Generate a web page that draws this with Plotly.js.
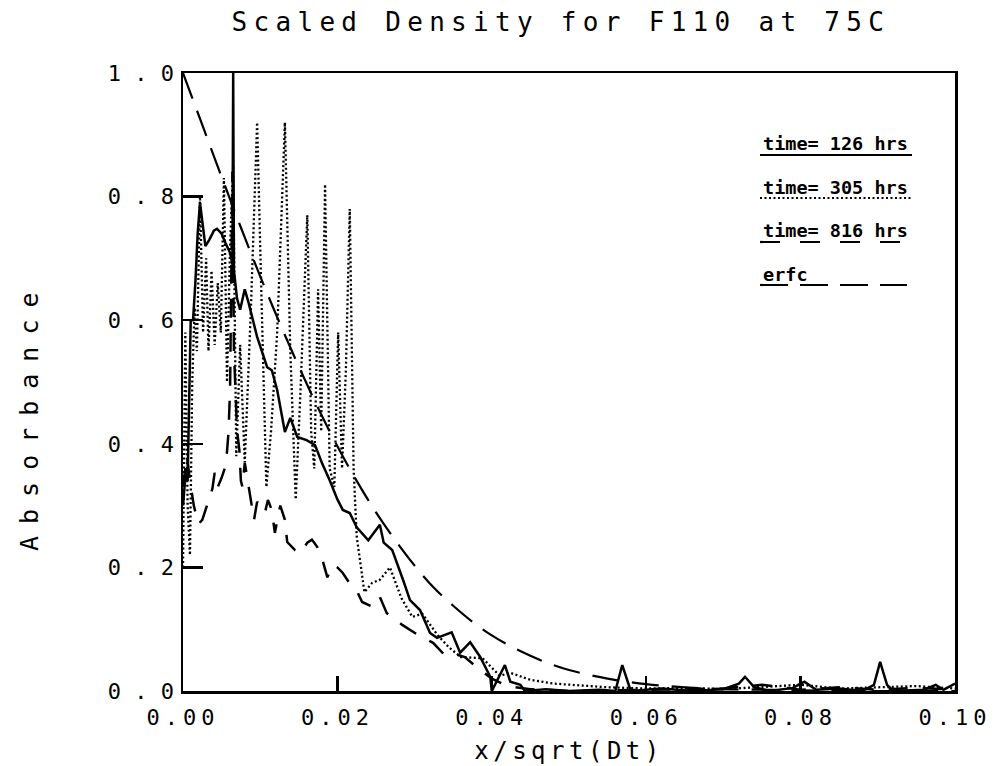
<!DOCTYPE html>
<html>
<head>
<meta charset="utf-8">
<script src="https://cdn.plot.ly/plotly-3.0.1.min.js"></script>
<style>
  html, body { margin: 0; padding: 0; background: #fff; }
  #chart { width: 998px; height: 766px; }
  .xtick text { letter-spacing: 5px; }
  .gtitle { letter-spacing: 6.3px; }
  .g-xtitle text { letter-spacing: 4.5px; }
  g.annotation[data-index="0"] text { letter-spacing: 12px; }
</style>
</head>
<body>
<div id="chart"></div>
<script>
// ---- Data ----
var seriesNames = ["time= 126 hrs", "time= 305 hrs", "time= 816 hrs", "erfc"];

var t126X = [0.0000,0.0004,0.0006,0.0008,0.0010,0.0013,0.0016,0.0019,0.0022,0.0026,0.0029,0.0034,0.0040,0.0044,0.0050,0.0055,0.0061,0.0064,0.0065,0.0066,0.0070,0.0074,0.0080,0.0085,0.0096,0.0109,0.0115,0.0122,0.0132,0.0139,0.0148,0.0160,0.0171,0.0180,0.0190,0.0200,0.0207,0.0216,0.0225,0.0240,0.0255,0.0260,0.0271,0.0285,0.0294,0.0307,0.0320,0.0329,0.0348,0.0359,0.0372,0.0385,0.0398,0.0400,0.0408,0.0417,0.0424,0.0437,0.0443,0.0470,0.0500,0.0540,0.0560,0.0569,0.0580,0.0620,0.0660,0.0700,0.0720,0.0728,0.0740,0.0760,0.0790,0.0805,0.0820,0.0850,0.0880,0.0895,0.0903,0.0912,0.0920,0.0960,0.0975,0.0985,0.1000];
var t126Y = [0.30,0.36,0.34,0.48,0.60,0.60,0.66,0.74,0.79,0.75,0.72,0.73,0.745,0.748,0.74,0.725,0.709,0.69,1.00,0.68,0.635,0.617,0.650,0.628,0.573,0.524,0.519,0.487,0.419,0.442,0.411,0.406,0.398,0.369,0.341,0.310,0.293,0.288,0.265,0.244,0.269,0.240,0.228,0.180,0.147,0.131,0.094,0.086,0.095,0.062,0.079,0.055,0.023,0.000,0.020,0.042,0.015,0.010,0.000,0.003,0.000,0.002,0.000,0.042,0.000,0.004,0.000,0.003,0.012,0.023,0.006,0.000,0.005,0.015,0.002,0.004,0.000,0.010,0.047,0.010,0.000,0.002,0.010,0.002,0.012];

var t305X = [0.0000,0.0003,0.0006,0.0009,0.0012,0.0015,0.0018,0.0022,0.0026,0.0030,0.0033,0.0037,0.0041,0.0045,0.0049,0.0053,0.0057,0.0061,0.0065,0.0069,0.0074,0.0080,0.0088,0.0096,0.0102,0.0108,0.0114,0.0122,0.0132,0.0139,0.0146,0.0152,0.0161,0.0166,0.0170,0.0175,0.0179,0.0184,0.0190,0.0196,0.0201,0.0206,0.0211,0.0216,0.0221,0.0225,0.0235,0.0245,0.0255,0.0268,0.0283,0.0297,0.0310,0.0330,0.0345,0.0360,0.0388,0.0410,0.0425,0.0450,0.0480,0.0500,0.0550,0.0600,0.0650,0.0700,0.0750,0.0800,0.0850,0.0900,0.0950,0.1000];
var t305Y = [0.20,0.58,0.30,0.22,0.50,0.62,0.55,0.80,0.58,0.70,0.55,0.68,0.56,0.66,0.58,0.83,0.50,0.72,0.85,0.38,0.56,0.37,0.62,0.92,0.62,0.33,0.42,0.58,0.92,0.55,0.31,0.48,0.77,0.42,0.36,0.65,0.42,0.82,0.36,0.33,0.58,0.36,0.52,0.78,0.36,0.25,0.16,0.175,0.18,0.20,0.15,0.12,0.125,0.09,0.07,0.055,0.053,0.025,0.029,0.018,0.012,0.010,0.006,0.004,0.005,0.003,0.006,0.010,0.004,0.006,0.008,0.004];

var t816X = [0.0000,0.0005,0.0009,0.0014,0.0020,0.0025,0.0031,0.0038,0.0041,0.0045,0.0050,0.0054,0.0057,0.0059,0.0061,0.0062,0.0064,0.0066,0.0070,0.0073,0.0075,0.0077,0.0080,0.0084,0.0089,0.0092,0.0096,0.0101,0.0106,0.0110,0.0115,0.0119,0.0126,0.0132,0.0135,0.0145,0.0152,0.0161,0.0167,0.0174,0.0180,0.0187,0.0194,0.0200,0.0207,0.0219,0.0226,0.0232,0.0246,0.0255,0.0264,0.0275,0.0284,0.0304,0.0324,0.0339,0.0352,0.0365,0.0382,0.0400,0.0420,0.0450,0.0500,0.0600,0.0700,0.0750,0.0800,0.0850,0.0900,0.0950,0.1000];
var t816Y = [0.33,0.38,0.34,0.30,0.27,0.277,0.30,0.327,0.353,0.33,0.345,0.36,0.387,0.42,0.49,0.65,0.84,0.55,0.422,0.39,0.34,0.33,0.369,0.339,0.30,0.277,0.306,0.30,0.288,0.309,0.293,0.256,0.30,0.277,0.241,0.228,0.223,0.24,0.245,0.233,0.215,0.184,0.204,0.20,0.191,0.168,0.16,0.144,0.136,0.152,0.126,0.115,0.107,0.091,0.078,0.058,0.06,0.055,0.037,0.02,0.008,0.003,0.000,0.002,0.004,0.010,0.002,0.006,0.002,0.005,0.002];

var erfcX = [0.0000,0.0025,0.0050,0.0075,0.0100,0.0125,0.0150,0.0175,0.0200,0.0225,0.0250,0.0275,0.0300,0.0325,0.0350,0.0375,0.0400,0.0425,0.0450,0.0475,0.0500,0.0550,0.0600,0.0650,0.0700,0.0750,0.0800,0.0900,0.1000];
var erfcY = [1.000,0.916,0.832,0.750,0.671,0.596,0.525,0.458,0.396,0.340,0.289,0.244,0.203,0.167,0.138,0.112,0.090,0.072,0.057,0.044,0.034,0.020,0.011,0.006,0.003,0.002,0.001,0.000,0.000];

var xTickVals = [0.00, 0.02, 0.04, 0.06, 0.08, 0.10];
var xTickText = ["0.00", "0.02", "0.04", "0.06", "0.08", "0.10"];
var yTickVals = [0.0, 0.2, 0.4, 0.6, 0.8, 1.0];
var yTickText = ["0 . 0", "0 . 2", "0 . 4", "0 . 6", "0 . 8", "1 . 0"];

// ---- Plot ----
var mono = "DejaVu Sans Mono, Liberation Mono, monospace";
var traces = [
  {x: t126X, y: t126Y, name: seriesNames[0], mode: "lines", line: {color: "#000", width: 2.5}},
  {x: t305X, y: t305Y, name: seriesNames[1], mode: "lines", line: {color: "#000", width: 2.3, dash: "2px,2.5px"}},
  {x: t816X, y: t816Y, name: seriesNames[2], mode: "lines", line: {color: "#000", width: 2.5, dash: "19px,15px"}},
  {x: erfcX, y: erfcY, name: seriesNames[3], mode: "lines", line: {color: "#000", width: 2.2, dash: "27px,13px", shape: "spline"}}
];

function px2x(p) { return (p - 183) / 772; }
function px2y(p) { return (691 - p) / 618; }

var legendRows = [
  {label: seriesNames[0], yc: 143, yl: 155, x1: 912, dash: "solid", w: 2.2},
  {label: seriesNames[1], yc: 187, yl: 198, x1: 912, dash: "2px,2.5px", w: 2},
  {label: seriesNames[2], yc: 231, yl: 242, x1: 902, dash: "20px,20px", w: 2.2},
  {label: seriesNames[3], yc: 274, yl: 285, x1: 907, dash: "28px,12px", w: 2.2}
];

var annotations = [
  {text: "Absorbance", xref: "paper", yref: "paper", x: px2x(29), y: px2y(416),
   xanchor: "center", yanchor: "middle", textangle: -90, showarrow: false,
   font: {family: mono, size: 25, color: "#000"}}
];
var shapes = [];
legendRows.forEach(function (r) {
  annotations.push({text: r.label, xref: "paper", yref: "paper", x: px2x(761), y: px2y(r.yc),
    xanchor: "left", yanchor: "middle", showarrow: false,
    font: {family: mono, size: 18.5, color: "#000", weight: "bold"}});
  shapes.push({type: "line", xref: "paper", yref: "paper", x0: px2x(760), x1: px2x(r.x1),
    y0: px2y(r.yl), y1: px2y(r.yl), line: {color: "#000", width: r.w, dash: r.dash}});
});

var layout = {
  width: 998, height: 766,
  margin: {l: 183, r: 43, t: 73, b: 75},
  paper_bgcolor: "#fff", plot_bgcolor: "#fff",
  showlegend: false,
  title: {text: "Scaled Density for F110 at 75C", x: 0.562, xanchor: "center", y: 0.972, yanchor: "middle",
          font: {family: mono, size: 26, color: "#000"}},
  xaxis: {range: [0, 0.1], tickmode: "array", tickvals: xTickVals, ticktext: xTickText,
          ticks: "inside", ticklen: 15, tickwidth: 2.5, tickcolor: "#000",
          showline: true, linewidth: 2.5, linecolor: "#000", mirror: true,
          showgrid: false, zeroline: false, ticklabelstandoff: 5,
          tickfont: {family: mono, size: 22, color: "#000"},
          title: {text: "x/sqrt(Dt)", standoff: 14, font: {family: mono, size: 24, color: "#000"}}},
  yaxis: {range: [0, 1.0], tickmode: "array", tickvals: yTickVals, ticktext: yTickText,
          ticks: "inside", ticklen: 20, tickwidth: 2.5, tickcolor: "#000",
          showline: true, linewidth: 2.5, linecolor: "#000", mirror: true,
          showgrid: false, zeroline: false, ticklabelstandoff: 2,
          tickfont: {family: mono, size: 22, color: "#000"}},
  annotations: annotations,
  shapes: shapes
};

Plotly.newPlot("chart", traces, layout, {displayModeBar: false, staticPlot: true});
</script>
</body>
</html>
